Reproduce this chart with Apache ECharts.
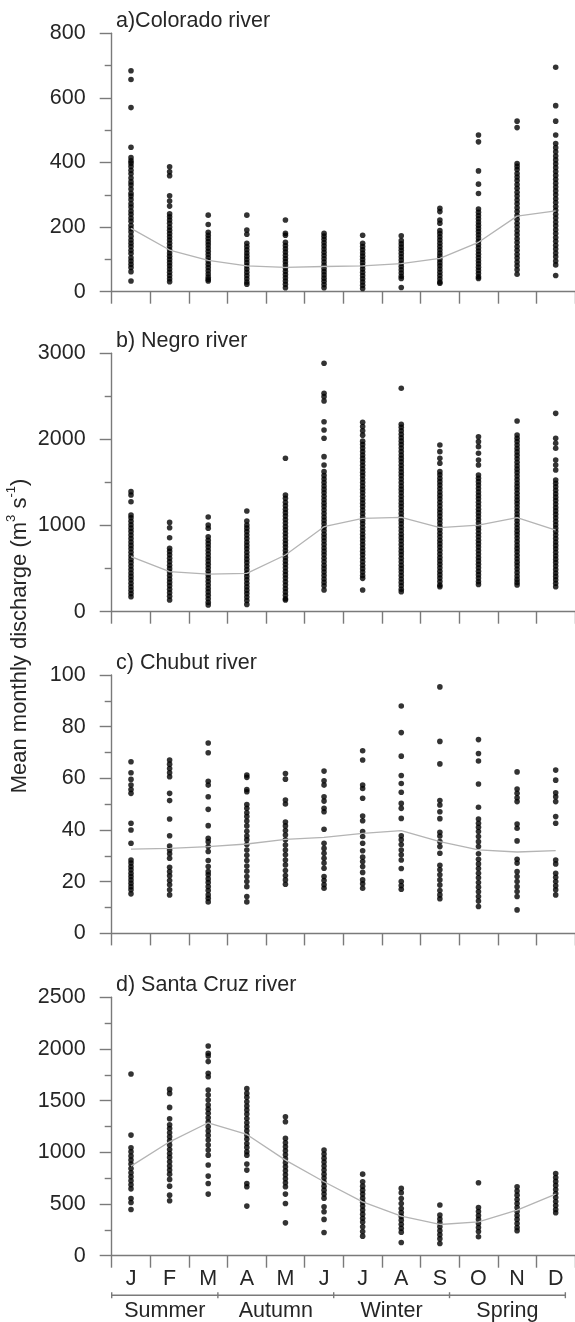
<!DOCTYPE html>
<html>
<head>
<meta charset="utf-8">
<script src="https://cdn.jsdelivr.net/npm/echarts@6/dist/echarts.min.js"></script>
<style>
html,body{margin:0;padding:0;background:#fff;}
#chart{width:575px;height:1322px;}
</style>
</head>
<body>
<div id="chart"></div>
<script>
// ---------- DATA ----------
const months = ['J','F','M','A','M','J','J','A','S','O','N','D'];
const seasons = ['Summer','Autumn','Winter','Spring'];
const seasonLastMonth = [2, 5, 8, 11];
const panelTitles = ['a)Colorado river','b) Negro river','c) Chubut river','d) Santa Cruz river'];
const yMax = [800, 3000, 100, 2500];
const yStep = [200, 1000, 20, 500];

const coloradoValues = [
  [684,657,570,447,415,405,398,388,376,365,352,340,330,318,305,296,285,272,262,250,240,228,218,205,195,185,172,160,150,140,128,118,105,95,85,75,62,33],
  [387,371,359,297,281,265,241,232,222,212,200,190,180,170,160,150,140,130,120,110,100,90,80,70,60,50,40,31],
  [237,208,184,175,165,155,145,135,125,115,105,95,85,75,65,55,45,38,33],
  [237,191,178,150,140,130,120,110,100,90,80,70,60,50,40,30,23],
  [222,181,175,153,143,133,123,113,103,93,83,73,63,53,43,33,23,12],
  [181,172,162,152,142,132,122,112,102,92,82,72,62,52,42,32,22,12],
  [175,150,140,130,120,110,100,90,80,70,60,50,40,30,20,10],
  [173,158,148,138,128,118,108,98,88,78,68,58,48,41,13],
  [258,248,222,212,189,180,170,160,150,140,130,120,110,100,90,80,70,60,50,40,30,26],
  [485,464,374,333,304,256,246,236,226,216,206,196,186,176,166,156,146,136,126,116,106,96,86,76,66,56,46,41],
  [528,508,397,388,378,366,355,344,332,320,308,296,284,272,260,248,236,224,212,200,188,176,164,152,140,128,116,104,92,80,68,54],
  [695,576,528,485,459,446,433,420,408,396,384,372,360,348,336,324,312,300,288,276,264,252,240,228,216,204,192,180,168,156,144,132,120,108,95,83,50]
];
const coloradoMean = [196,129,97,80,75,78,80,87,103,153,234,250];

const negroValues = [
  [1394,1355,1277,1123,1090,1050,1010,970,930,890,850,810,770,730,690,650,610,570,530,490,450,410,370,330,290,250,210,174],
  [1037,975,859,736,700,660,620,580,540,500,460,420,380,340,300,260,220,180,135],
  [1099,1006,968,871,830,790,750,710,670,630,590,550,510,470,430,390,350,310,270,230,190,150,110,77],
  [1169,1053,1006,970,930,890,850,810,770,730,690,650,610,570,530,490,450,410,370,330,290,250,210,170,130,85],
  [1781,1355,1316,1270,1230,1190,1150,1110,1070,1030,990,950,910,870,830,790,750,710,670,630,590,550,510,470,430,390,350,310,270,230,190,150,135],
  [2884,2536,2497,2446,2206,2110,2013,1800,1703,1626,1580,1540,1500,1460,1420,1380,1340,1300,1260,1220,1180,1140,1100,1060,1020,980,940,900,860,820,780,740,700,660,620,580,540,500,460,420,380,340,300,252],
  [2199,2150,2100,2050,1980,1940,1900,1860,1820,1780,1740,1700,1660,1620,1580,1540,1500,1460,1420,1380,1340,1300,1260,1220,1180,1140,1100,1060,1020,980,940,900,860,820,780,740,700,660,620,580,540,500,460,420,387,252],
  [2594,2176,2140,2100,2060,2020,1980,1940,1900,1860,1820,1780,1740,1700,1660,1620,1580,1540,1500,1460,1420,1380,1340,1300,1260,1220,1180,1140,1100,1060,1020,980,940,900,860,820,780,740,700,660,620,580,540,500,460,420,380,340,300,260,232],
  [1936,1858,1781,1723,1626,1590,1550,1510,1470,1430,1390,1350,1310,1270,1230,1190,1150,1110,1070,1030,990,950,910,870,830,790,750,710,670,630,590,550,510,470,430,390,350,310,290],
  [2032,1974,1916,1839,1761,1703,1587,1550,1510,1470,1430,1390,1350,1310,1270,1230,1190,1150,1110,1070,1030,990,950,910,870,830,790,750,710,670,630,590,550,510,470,430,390,350,317],
  [2214,2052,2013,1975,1935,1895,1855,1815,1775,1735,1695,1655,1615,1575,1535,1495,1455,1415,1375,1335,1295,1255,1215,1175,1135,1095,1055,1015,975,935,895,855,815,775,735,695,655,615,575,535,495,455,415,375,340,310],
  [2303,2013,1955,1897,1761,1703,1645,1529,1490,1450,1410,1370,1330,1290,1250,1210,1170,1130,1090,1050,1010,970,930,890,850,810,770,730,690,650,610,570,530,490,450,410,370,330,290]
];
const negroMean = [639,465,437,445,658,987,1084,1096,976,1006,1092,948];

const chubutValues = [
  [66.4,62.2,59.6,57.4,55.7,54.2,42.6,40.0,34.9,28.4,27.2,25.9,24.6,23.3,22.0,20.7,19.4,18.1,16.9,15.3],
  [67.1,65.5,63.8,62.2,60.6,54.2,51.4,44.3,37.8,33.8,32.3,30.8,29.1,25.6,23.9,22.3,20.5,18.8,16.9,14.9],
  [73.7,69.9,58.9,57.4,52.9,48.0,41.7,36.8,35.5,33.6,31.7,28.2,25.9,23.9,22.7,21.1,19.7,18.1,16.6,14.9,13.6,12.2],
  [61.3,60.4,55.7,54.8,49.9,48.4,46.7,45.2,43.5,41.6,39.5,37.7,36.2,34.4,32.3,30.2,28.2,26.1,24.1,22.0,20.1,18.1,14.3,12.2],
  [61.9,59.7,51.6,50.1,43.1,41.6,39.8,38.1,36.2,34.2,32.3,30.4,28.4,26.5,24.3,22.4,20.7,19.0],
  [62.8,59.1,57.4,52.9,51.2,48.4,47.1,40.3,34.9,32.9,31.0,29.1,27.2,25.2,22.0,20.5,18.8,17.5],
  [70.7,67.1,57.4,56.1,52.3,45.4,43.6,39.4,37.5,34.9,32.0,29.5,27.8,25.9,23.6,20.7,19.2,17.5],
  [88.0,77.7,68.6,61.1,58.0,54.6,50.3,48.4,44.5,37.8,36.2,34.4,32.3,30.4,28.4,25.1,20.1,18.5,17.1],
  [95.4,74.3,65.6,51.4,49.7,47.1,44.4,39.1,37.7,35.5,33.6,31.0,26.4,24.6,22.7,20.7,18.7,16.6,14.9,13.4],
  [75.0,69.6,66.7,57.8,48.8,44.3,42.6,41.1,39.4,37.5,35.5,33.6,30.8,28.7,26.9,25.1,23.3,21.5,19.7,17.9,16.1,14.3,12.5,10.4],
  [62.5,55.9,54.2,52.5,51.0,42.3,40.7,35.8,28.7,27.2,23.9,22.0,20.1,18.1,16.2,14.3,9.1],
  [63.2,59.3,54.4,52.9,51.0,45.2,42.6,28.4,26.9,23.3,21.7,20.1,18.4,16.9,14.9]
];
const chubutMean = [32.6,32.9,33.6,34.6,36.4,37.2,38.7,39.8,35.5,32.3,31.5,32.0];

const santaCruzValues = [
  [1758,1167,1044,1006,964,925,886,844,803,763,725,686,647,554,515,447],
  [1609,1570,1435,1325,1267,1231,1189,1151,1112,1070,1028,989,951,909,867,828,789,738,673,586,531],
  [2029,1958,1933,1878,1765,1732,1603,1554,1506,1457,1418,1377,1335,1293,1248,1206,1164,1119,1070,1022,973,877,770,699,596],
  [1616,1570,1532,1490,1448,1409,1370,1328,1286,1248,1209,1167,1128,1086,1048,1006,973,886,828,699,667,480],
  [1345,1296,1135,1093,1054,1015,976,938,899,860,822,783,744,706,667,596,505,318],
  [1022,983,944,906,867,828,789,751,712,673,634,596,557,473,425,351,225],
  [789,716,673,634,596,557,518,480,441,402,363,325,280,234,189],
  [651,609,554,505,457,418,380,344,305,266,228,128],
  [490,393,354,318,280,241,202,163,118],
  [706,467,428,389,351,312,273,234,183],
  [667,625,586,544,505,467,428,389,351,312,273,241],
  [796,757,719,680,641,602,563,525,486,447,415]
];
const santaCruzMean = [867,1102,1286,1173,925,715,521,383,302,328,441,596];

const allValues = [coloradoValues, negroValues, chubutValues, santaCruzValues];
const allMeans = [coloradoMean, negroMean, chubutMean, santaCruzMean];

// ---------- LAYOUT ----------
const gridTops = [33.3, 353.3, 675, 997.3];
const gridH = 258.4;
const gridLeft = 111.7;
const gridW = 465.6;
const axisColor = '#7a7a7a';
const textColor = '#262626';
const FONT = 'Liberation Sans, Arial, sans-serif';
const FS = 21.5;

const chart = echarts.init(document.getElementById('chart'), null, {renderer: 'canvas'});

const grids = [], xAxes = [], yAxes = [], series = [], titles = [];
for (let p = 0; p < 4; p++) {
  grids.push({left: gridLeft, top: gridTops[p], width: gridW, height: gridH, containLabel: false});
  xAxes.push({
    type: 'category', gridIndex: p, data: months, boundaryGap: true,
    axisLine: {show: true, lineStyle: {color: axisColor, width: 1.4}},
    axisTick: {show: true, length: 12, inside: false, alignWithLabel: false, lineStyle: {color: axisColor, width: 1.4}},
    axisLabel: {show: p === 3, fontSize: FS, color: textColor, fontFamily: FONT, margin: 12, interval: 0},
    splitLine: {show: false}
  });
  yAxes.push({
    type: 'value', gridIndex: p, min: 0, max: yMax[p], interval: yStep[p],
    axisLine: {show: true, lineStyle: {color: axisColor, width: 1.4}},
    axisTick: {show: true, length: 12, lineStyle: {color: axisColor, width: 1.4}},
    minorTick: {show: true, splitNumber: 2, length: 7, lineStyle: {color: axisColor, width: 1.4}},
    axisLabel: {fontSize: FS, color: textColor, fontFamily: FONT, margin: 26, formatter: v => String(v)},
    splitLine: {show: false}, minorSplitLine: {show: false}
  });
  const pts = [];
  allValues[p].forEach((arr, i) => arr.forEach(v => pts.push([i, v])));
  series.push({
    type: 'scatter', xAxisIndex: p, yAxisIndex: p, data: pts,
    symbol: 'circle', symbolSize: 5.6, itemStyle: {color: '#000'}, z: 3, silent: true
  });
  series.push({
    type: 'line', xAxisIndex: p, yAxisIndex: p,
    data: allMeans[p].map((v, i) => [i, v]),
    symbol: 'none', lineStyle: {color: '#b4b4b4', width: 1.3}, z: 4, silent: true
  });
  titles.push({
    text: panelTitles[p], left: 116, top: gridTops[p] - 23, padding: 0,
    textStyle: {fontSize: FS, fontWeight: 'normal', color: textColor, fontFamily: FONT}
  });
}

chart.setOption({
  animation: false,
  backgroundColor: '#fff',
  title: titles,
  grid: grids, xAxis: xAxes, yAxis: yAxes, series: series
});

// ---------- SEASON BRACKET & Y NAME ----------
const xAt = i => chart.convertToPixel({xAxisIndex: 3}, i);
const band = xAt(1) - xAt(0);
const y0 = chart.convertToPixel({yAxisIndex: 3}, 0);
const lineY = y0 + 39.5;
const startX = xAt(0) - 0.5 * band;
const bounds = [startX].concat(seasonLastMonth.map(i => xAt(i) + 0.25 * band));
const elements = [];
elements.push({type: 'line', shape: {x1: bounds[0], y1: lineY, x2: bounds[bounds.length - 1], y2: lineY},
  style: {stroke: axisColor, lineWidth: 1.4}});
bounds.forEach(b => elements.push({type: 'line', shape: {x1: b, y1: lineY - 3, x2: b, y2: lineY + 3},
  style: {stroke: axisColor, lineWidth: 1.4}}));
seasons.forEach((s, k) => elements.push({type: 'text', x: (bounds[k] + bounds[k + 1]) / 2, y: lineY + 15.5,
  style: {text: s, fontSize: FS, fill: textColor, fontFamily: FONT, align: 'center', verticalAlign: 'middle'}}));
elements.push({
  type: 'text', x: 18, y: 636, rotation: Math.PI / 2,
  style: {
    text: '{a|Mean monthly discharge (m}{s|3}{a| s}{s|-1}{a|)}',
    align: 'center', verticalAlign: 'middle', fill: textColor,
    rich: {
      a: {fontSize: 22, fontFamily: FONT, fill: textColor, lineHeight: 26, verticalAlign: 'bottom'},
      s: {fontSize: 13, fontFamily: FONT, fill: textColor, lineHeight: 26, verticalAlign: 'top'}
    }
  }
});
chart.setOption({graphic: {elements: elements}});
</script>
</body>
</html>
